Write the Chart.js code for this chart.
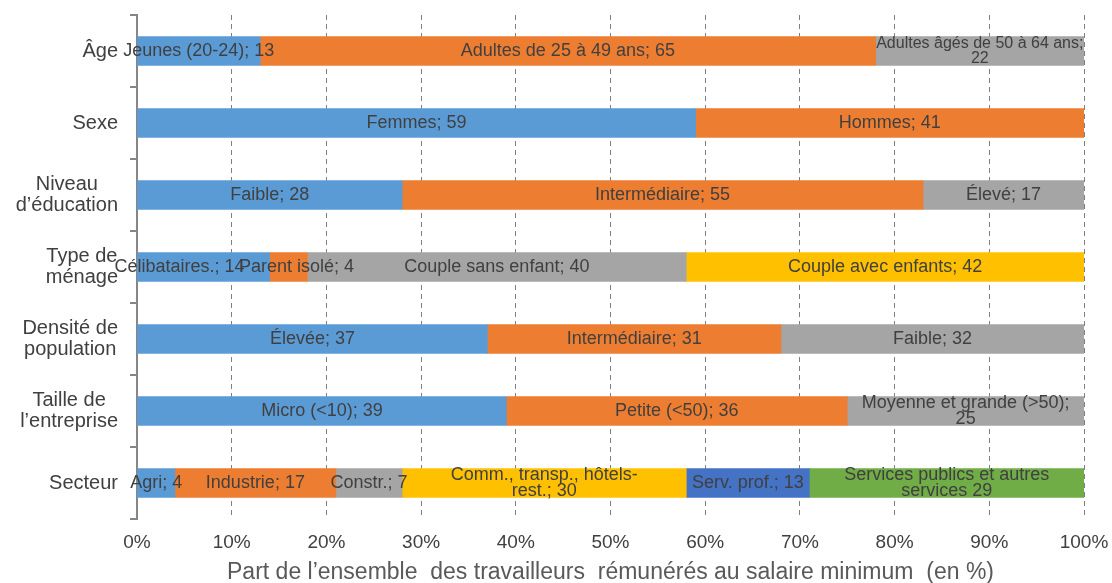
<!DOCTYPE html>
<html>
<head>
<meta charset="utf-8">
<script src="https://cdn.jsdelivr.net/npm/chart.js@4/dist/chart.umd.min.js"></script>
<style>
  html, body { margin: 0; padding: 0; background: #ffffff; }
  #wrap { width: 1112px; height: 583px; position: relative; }
</style>
</head>
<body>
<div id="wrap"><canvas id="chart"></canvas></div>
<script>
// Categories (multi-line labels on the vertical axis)
const categories = [
  ['Âge'],
  ['Sexe'],
  ['Niveau', 'd’éducation'],
  ['Type de', 'ménage'],
  ['Densité de', 'population'],
  ['Taille de', 'l’entreprise'],
  ['Secteur']
];

// Percent ticks on the horizontal axis
const tickValues = [0, 10, 20, 30, 40, 50, 60, 70, 80, 90, 100];

// Shares (%) per stacked segment, in left-to-right order within each category
const segment1Values = [13, 59, 28, 14, 37, 39, 4];
const segment2Values = [65, 41, 55, 4, 31, 36, 17];
const segment3Values = [22, null, 17, 40, 32, 25, 7];
const segment4Values = [null, null, null, 42, null, null, 30];
const segment5Values = [null, null, null, null, null, null, 13];
const segment6Values = [null, null, null, null, null, null, 29];

// Segment names (the value is appended when the label is drawn)
const segment1Names = ['Jeunes (20-24); ', 'Femmes; ', 'Faible; ', 'Célibataires.; ', 'Élevée; ', 'Micro (<10); ', 'Agri; '];
const segment2Names = ['Adultes de 25 à 49 ans; ', 'Hommes; ', 'Intermédiaire; ', 'Parent isolé; ', 'Intermédiaire; ', 'Petite (<50); ', 'Industrie; '];
const segment3Names = ['Adultes âgés de 50 à 64 ans;\n', null, 'Élevé; ', 'Couple sans enfant; ', 'Faible; ', 'Moyenne et grande (>50);\n', 'Constr.; '];
const segment4Names = [null, null, null, 'Couple avec enfants; ', null, null, 'Comm., transp., hôtels-\nrest.; '];
const segment5Names = [null, null, null, null, null, null, 'Serv. prof.; '];
const segment6Names = [null, null, null, null, null, null, 'Services publics et autres\nservices '];

const axisTitle = 'Part de l’ensemble  des travailleurs  rémunérés au salaire minimum  (en %)';

const FONT = '"Liberation Sans", Arial, Helvetica, sans-serif';

const series = [
  { values: segment1Values, names: segment1Names, color: '#5B9BD5' },
  { values: segment2Values, names: segment2Names, color: '#ED7D31' },
  { values: segment3Values, names: segment3Names, color: '#A5A5A5' },
  { values: segment4Values, names: segment4Names, color: '#FFC000' },
  { values: segment5Values, names: segment5Names, color: '#4472C4' },
  { values: segment6Values, names: segment6Names, color: '#70AD47' }
];

// Draws "name; value" centred on each bar segment
const segmentLabels = {
  id: 'segmentLabels',
  // hand-placed labels in the crowded household row (px shift from centre)
  nudge: { '0:3': -24, '1:3': 8 },
  afterDatasetsDraw(chart) {
    const ctx = chart.ctx;
    ctx.save();
    ctx.fillStyle = '#404040';
    ctx.textAlign = 'center';
    ctx.textBaseline = 'middle';
    chart.data.datasets.forEach((ds, d) => {
      const meta = chart.getDatasetMeta(d);
      meta.data.forEach((el, i) => {
        const v = ds.data[i];
        const name = ds.names[i];
        if (v === null || v === undefined || !name) return;
        const lines = (name + v).split('\n');
        const small = d === 2 && i === 0;
        const size = small ? 16 : 18;
        const lh = small ? 15 : 16.5;
        ctx.font = size + 'px ' + FONT;
        const cx = (el.x + el.base) / 2 + (this.nudge[d + ':' + i] || 0);
        const y0 = el.y - (lines.length - 1) * lh / 2;
        lines.forEach((t, k) => ctx.fillText(t, cx, y0 + k * lh));
      });
    });
    ctx.restore();
  }
};

// Category names: each block right-aligned near the axis, lines centred within the block
const categoryLabels = {
  id: 'categoryLabels',
  afterDraw(chart) {
    const ctx = chart.ctx;
    const yScale = chart.scales.y;
    const right = yScale.right - 19;
    const lh = 21;
    ctx.save();
    ctx.font = '20px ' + FONT;
    ctx.fillStyle = '#404040';
    ctx.textAlign = 'center';
    ctx.textBaseline = 'middle';
    categories.forEach((lines, i) => {
      const y = yScale.getPixelForValue(i);
      const w = Math.max(...lines.map(t => ctx.measureText(t).width));
      const cx = right - w / 2;
      const y0 = y - (lines.length - 1) * lh / 2;
      lines.forEach((t, k) => ctx.fillText(t, cx, y0 + k * lh));
    });
    ctx.restore();
  }
};

new Chart(document.getElementById('chart'), {
  type: 'bar',
  data: {
    labels: categories.map(c => c.join(' ')),
    datasets: series.map(s => ({
      data: s.values,
      names: s.names,
      backgroundColor: s.color,
      borderWidth: 0,
      barThickness: 29
    }))
  },
  options: {
    indexAxis: 'y',
    responsive: true,
    maintainAspectRatio: false,
    animation: false,
    layout: { padding: { top: 15, right: 28, left: 0, bottom: 0 } },
    plugins: {
      legend: { display: false },
      tooltip: { enabled: false }
    },
    scales: {
      x: {
        stacked: true,
        min: 0,
        max: 100,
        afterBuildTicks(scale) { scale.ticks = tickValues.map(v => ({ value: v })); },
        afterFit(scale) {
          scale.height = 64;
          scale.paddingLeft = 0;
          scale.paddingRight = 0;
        },
        border: { display: false, dash: [5, 4] },
        grid: {
          color: (c) => c.tick && c.tick.value === 0 ? 'rgba(0,0,0,0)' : '#7f7f7f',
          lineWidth: 1,
          drawTicks: false
        },
        ticks: {
          padding: 12,
          color: '#404040',
          font: { family: FONT, size: 19 },
          callback: (v) => v + '%',
          maxRotation: 0,
          autoSkip: false
        },
        title: {
          display: true,
          text: axisTitle,
          color: '#595959',
          font: { family: FONT, size: 23 },
          padding: -3
        }
      },
      y: {
        stacked: true,
        afterFit(scale) { scale.width = 137; },
        border: { display: true, color: '#868686', width: 2 },
        grid: {
          display: true,
          drawOnChartArea: false,
          drawTicks: true,
          tickLength: 7,
          color: '#868686',
          lineWidth: 2,
          offset: true
        },
        ticks: { display: false }
      }
    }
  },
  plugins: [segmentLabels, categoryLabels]
});
</script>
</body>
</html>
